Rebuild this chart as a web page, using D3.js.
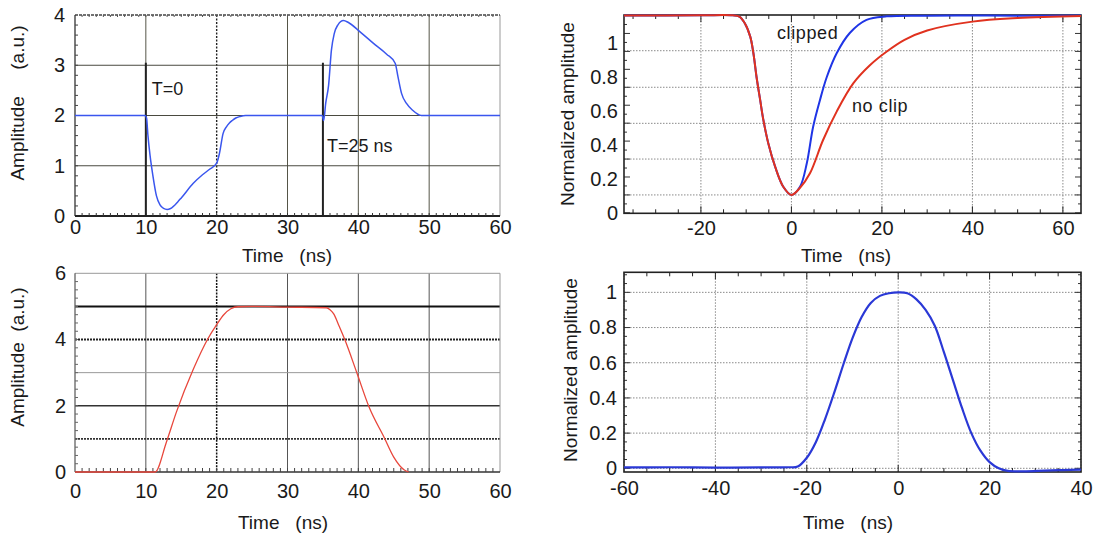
<!DOCTYPE html>
<html><head><meta charset="utf-8">
<script src="https://cdn.jsdelivr.net/npm/d3@7"></script>
<style>
body{margin:0;background:#fff;}
svg text{font-family:"Liberation Sans",Arial,Helvetica,sans-serif;fill:#1a1a1a;}
</style></head><body>
<svg id="c" width="1097" height="537"></svg>
<script>
// ---------- DATA ----------
// Top-left: pulse with T=0 / T=25 ns markers
const tlTime = [0, 9.9, 10.1, 10.3, 10.6, 11.0, 11.5, 12.0, 12.5, 13.0, 13.5, 14.5, 15.0, 16.7, 18.0, 19.0, 20.0, 20.4, 20.9, 21.4, 21.8, 22.2, 22.7, 23.3, 24.1, 30, 34.9, 35.1, 35.4, 35.8, 36.2, 36.6, 37.1, 37.9, 38.6, 40.2, 42.1, 44.0, 45.2, 45.6, 46.1, 46.8, 47.7, 48.9, 50, 60];
const tlAmp  = [2.0, 2.0, 1.95, 1.6, 1.2, 0.8, 0.4, 0.22, 0.15, 0.13, 0.15, 0.28, 0.36, 0.65, 0.82, 0.93, 1.05, 1.25, 1.64, 1.78, 1.85, 1.9, 1.95, 1.98, 2.0, 2.0, 2.0, 1.9, 2.25, 2.6, 3.3, 3.63, 3.8, 3.89, 3.85, 3.67, 3.44, 3.22, 3.04, 2.77, 2.44, 2.24, 2.1, 2.0, 2.0, 2.0];
const tlXTicks = [0, 10, 20, 30, 40, 50, 60];
const tlYTicks = [0, 1, 2, 3, 4];
const tlGridX = [10, 20, 30, 40, 50];
const tlGridY = [1, 2, 3];
const tlMarkers = [10, 35];          // T=0 and T=25 ns lines (time)
const tlMarkerTop = 3.05;
const tlNotes = ["T=0", "T=25 ns"];

// Top-right: normalized pulses, clipped vs no clip
const trTimeDown = [-37, -20, -13, -11.5, -10.3, -9.1, -8.4, -7.7, -6.9, -6.2, -5.1, -3.6, -1.8, 0];
const trAmpDown  = [1.163, 1.164, 1.164, 1.157, 1.118, 1.039, 0.941, 0.80, 0.665, 0.549, 0.41, 0.274, 0.156, 0.108];
const trTimeClip = [0, 1.9, 3.4, 4.8, 6.3, 7.8, 10.0, 12.9, 16.6, 21.1, 30, 40, 50, 64];
const trAmpClip  = [0.108, 0.156, 0.294, 0.509, 0.665, 0.80, 0.941, 1.06, 1.137, 1.158, 1.162, 1.163, 1.162, 1.163];
const trTimeNoClip = [0, 1.9, 4.1, 7.0, 10.0, 13.7, 17.4, 21.0, 25.0, 30.0, 40.0, 50.0, 64];
const trAmpNoClip  = [0.108, 0.15, 0.235, 0.431, 0.598, 0.765, 0.872, 0.95, 1.02, 1.075, 1.127, 1.148, 1.16];
const trXTicks = [-20, 0, 20, 40, 60];
const trYTicks = [0, 0.2, 0.4, 0.6, 0.8, 1];
const trGridY = [0.108, 0.319, 0.529, 0.741, 0.956];
const trNotes = ["clipped", "no clip"];

// Bottom-left: trapezoid
const blTime = [0, 11.3, 12.9, 14.3, 16.7, 18.7, 20.0, 21.0, 22.0, 23.0, 25, 30, 35.5, 36.0, 36.5, 37.3, 38.1, 39.8, 41.5, 43.7, 45.0, 46.5, 47.1];
const blAmp  = [0, 0, 0.9, 1.8, 3.1, 4.0, 4.45, 4.75, 4.93, 4.99, 5.0, 4.98, 4.96, 4.9, 4.78, 4.4, 3.99, 2.99, 1.97, 1.02, 0.45, 0.06, 0];
const blXTicks = [0, 10, 20, 30, 40, 50, 60];
const blYTicks = [0, 2, 4, 6];
const blGridX = [10, 20, 30, 40, 50];
const blGridY = [1, 2, 3, 4, 5];

// Bottom-right: shaped pulse
const brTime = [-60, -50, -40, -30, -24, -22, -20, -18, -16, -14, -12, -10, -8, -6, -4, -2, 0, 2, 4, 6, 8, 10, 12, 14, 16, 18, 20, 22, 24, 28, 32, 36, 40];
const brAmp  = [0.005, 0.006, 0.004, 0.005, 0.006, 0.01, 0.06, 0.15, 0.28, 0.43, 0.59, 0.74, 0.86, 0.94, 0.98, 0.995, 1.0, 0.995, 0.96, 0.9, 0.81, 0.66, 0.5, 0.34, 0.2, 0.1, 0.035, 0.0, -0.015, -0.017, -0.013, -0.01, -0.008];
const brXTicks = [-60, -40, -20, 0, 20, 40];
const brYTicks = [0, 0.2, 0.4, 0.6, 0.8, 1];

const xTitle = "Time   (ns)";
const yTitleTop = "Amplitude     (a.u.)";
const yTitleBot = "Amplitude  (a.u.)";
const yTitleNorm = "Normalized amplitude";

// ---------- HELPERS ----------
const svg = d3.select("#c");
const FS = 19, TFS = 20;
const zip = (a, b) => a.map((v, i) => [v, b[i]]);

function hLine(g, x1, x2, y, color, w, dash) {
  g.append("line").attr("x1", x1).attr("x2", x2).attr("y1", y).attr("y2", y)
    .attr("stroke", color).attr("stroke-width", w).attr("stroke-dasharray", dash || null);
}
function vLine(g, x, y1, y2, color, w, dash) {
  g.append("line").attr("x1", x).attr("x2", x).attr("y1", y1).attr("y2", y2)
    .attr("stroke", color).attr("stroke-width", w).attr("stroke-dasharray", dash || null);
}
function bottomLabels(x, y0, vals, pad) {
  svg.append("g").attr("transform", `translate(0,${y0})`)
    .call(d3.axisBottom(x).tickValues(vals).tickSize(0).tickPadding(pad).tickFormat(d => String(d)))
    .attr("font-size", TFS)
    .call(a => a.select(".domain").remove());
}
function leftLabels(y, x0, vals, pad) {
  svg.append("g").attr("transform", `translate(${x0},0)`)
    .call(d3.axisLeft(y).tickValues(vals).tickSize(0).tickPadding(pad).tickFormat(d => String(d)))
    .attr("font-size", TFS)
    .call(a => a.select(".domain").remove());
}
function titleX(cx, by, t) {
  svg.append("text").attr("x", cx).attr("y", by).attr("text-anchor", "middle")
    .attr("font-size", FS).style("white-space", "pre").text(t);
}
function titleY(cx, cy, t) {
  svg.append("text").attr("transform", `translate(${cx},${cy}) rotate(-90)`)
    .attr("text-anchor", "middle").attr("dominant-baseline", "central")
    .attr("font-size", FS).style("white-space", "pre").text(t);
}
let clipId = 0;
function clip(x, y) {
  const id = "clip" + (clipId++);
  svg.append("clipPath").attr("id", id).append("rect")
    .attr("x", x.range()[0]).attr("y", y.range()[1] - 1)
    .attr("width", x.range()[1] - x.range()[0]).attr("height", y.range()[0] - y.range()[1] + 2);
  return `url(#${id})`;
}

// ---------- TOP-LEFT ----------
{
  const x = d3.scaleLinear([0, 60], [75, 500]);
  const y = d3.scaleLinear([0, 4], [216, 15]);
  const g = svg.append("g");
  tlGridX.forEach(v => {
    if (v === 20) vLine(g, x(v), y(4), y(0), "#222", 1.4, "2,1.5");
    else vLine(g, x(v), y(4), y(0), "#555548", 1);
  });
  tlGridY.forEach(v => hLine(g, x(0), x(60), y(v), "#4a4a40", 1));
  vLine(g, x(60), y(4), y(0), "#999", 1);
  hLine(g, x(0), x(60), y(4), "#444", 1.6, "3,1");
  vLine(g, x(0), y(4), y(0), "#333", 1.3);
  hLine(g, x(0), x(60), y(0), "#222", 2);
  d3.range(1, 60).forEach(t => {
    vLine(g, x(t), y(0), y(0) - 3, "#333", 1);
    vLine(g, x(t), y(4), y(4) + 2, "#555", 1);
  });
  d3.range(0.2, 4, 0.2).forEach(v => hLine(g, x(0), x(0) + 3, y(v), "#444", 1));
  tlMarkers.forEach(t => vLine(g, x(t), y(tlMarkerTop), y(0), "#222", 2));
  svg.append("path").datum(zip(tlTime, tlAmp))
    .attr("clip-path", clip(x, y))
    .attr("fill", "none").attr("stroke", "#3a56ee").attr("stroke-width", 1.5)
    .attr("d", d3.line().x(d => x(d[0])).y(d => y(d[1])).curve(d3.curveMonotoneX));
  svg.append("text").attr("x", x(10) + 6).attr("y", 95).attr("font-size", 18).text(tlNotes[0]);
  svg.append("text").attr("x", x(35) + 4).attr("y", 152).attr("font-size", 18).text(tlNotes[1]);
  bottomLabels(x, 216, tlXTicks, 4);
  leftLabels(y, 75, tlYTicks, 10);
  titleX(287, 262, xTitle);
  titleY(17, 103, yTitleTop);
}

// ---------- TOP-RIGHT ----------
{
  const x = d3.scaleLinear([-37, 64], [624, 1081]);
  const y = d3.scaleLinear([0, 1.166], [213.3, 15]);
  const g = svg.append("g");
  trXTicks.forEach(v => vLine(g, x(v), y(1.166), y(0), "#8a8a8a", 1, "1.5,1.5"));
  trGridY.forEach(v => hLine(g, x(-37), x(64), y(v), "#8a8a8a", 1, "1.5,1.5"));
  d3.range(-35, 64, 5).forEach(t => {
    const major = trXTicks.includes(t);
    const L = major ? 7 : 4;
    vLine(g, x(t), y(0), y(0) - L, "#222", 1);
    vLine(g, x(t), y(1.166), y(1.166) + L, "#222", 1);
  });
  const step = (trGridY[1] - trGridY[0]) / 4;
  d3.range(0, 22).forEach(k => {
    const v = trGridY[0] - 2 * step + k * step;
    if (v <= 0 || v >= 1.166) return;
    const L = (k % 2 === 0) ? 6 : 3;
    hLine(g, x(-37), x(-37) + L, y(v), "#333", 1);
    hLine(g, x(64), x(64) - L, y(v), "#333", 1);
  });
  const line = d3.line().x(d => x(d[0])).y(d => y(d[1])).curve(d3.curveCatmullRom.alpha(0.5));
  const cp = clip(x, y);
  svg.append("path").datum(zip(trTimeDown, trAmpDown).concat(zip(trTimeClip, trAmpClip).slice(1)))
    .attr("clip-path", cp).attr("fill", "none").attr("stroke", "#1f35e6").attr("stroke-width", 2)
    .attr("d", line);
  svg.append("path").datum(zip(trTimeDown, trAmpDown).concat(zip(trTimeNoClip, trAmpNoClip).slice(1)))
    .attr("clip-path", cp).attr("fill", "none").attr("stroke", "#e0321f").attr("stroke-width", 2)
    .attr("d", line);
  g.append("rect").attr("x", x(-37)).attr("y", y(1.166)).attr("width", x(64) - x(-37))
    .attr("height", y(0) - y(1.166)).attr("fill", "none").attr("stroke", "#222").attr("stroke-width", 1.6);
  svg.append("text").attr("x", 777).attr("y", 39).attr("font-size", 18).attr("letter-spacing", 0.6).text(trNotes[0]);
  svg.append("text").attr("x", 852).attr("y", 112).attr("font-size", 18).attr("letter-spacing", 0.6).text(trNotes[1]);
  bottomLabels(x, 213.3, trXTicks, 8);
  leftLabels(y, 624, trYTicks, 6);
  titleX(846, 262, xTitle);
  titleY(567, 114, yTitleNorm);
}

// ---------- BOTTOM-LEFT ----------
{
  const x = d3.scaleLinear([0, 60], [75, 500]);
  const y = d3.scaleLinear([0, 6], [472, 273.3]);
  const g = svg.append("g");
  blGridX.forEach(v => {
    if (v === 20) vLine(g, x(v), y(6), y(0), "#111", 1.5, "2,1.2");
    else vLine(g, x(v), y(6), y(0), "#555", 1);
  });
  const styles = {1: ["#333", 1.6, "2,1"], 2: ["#333", 1.4, null], 3: ["#999", 1, null], 4: ["#222", 2, "2,1"], 5: ["#111", 2, null]};
  blGridY.forEach(v => hLine(g, x(0), x(60), y(v), styles[v][0], styles[v][1], styles[v][2]));
  vLine(g, x(60), y(6), y(0), "#999", 1);
  hLine(g, x(0), x(60), y(6), "#999", 1);
  vLine(g, x(0), y(6), y(0), "#555", 1.2);
  hLine(g, x(0), x(60), y(0), "#333", 1.6);
  d3.range(1, 60).forEach(t => vLine(g, x(t), y(0), y(0) - 4, "#444", 1));
  d3.range(0.25, 6, 0.25).forEach(v => hLine(g, x(0), x(0) + 3, y(v), "#666", 1));
  svg.append("path").datum(zip(blTime, blAmp))
    .attr("clip-path", clip(x, y))
    .attr("fill", "none").attr("stroke", "#e8473c").attr("stroke-width", 1.3)
    .attr("d", d3.line().x(d => x(d[0])).y(d => y(d[1])).curve(d3.curveMonotoneX));
  bottomLabels(x, 472, blXTicks, 12);
  leftLabels(y, 75, blYTicks, 9);
  titleX(283, 529, xTitle);
  titleY(17, 357, yTitleBot);
}

// ---------- BOTTOM-RIGHT ----------
{
  const x = d3.scaleLinear([-60, 40], [624, 1081]);
  const y = d3.scaleLinear([-0.021, 1.114], [472, 272.3]);
  const g = svg.append("g");
  brXTicks.forEach(v => vLine(g, x(v), y(1.114), y(-0.021), "#8a8a8a", 1, "1.5,1.5"));
  brYTicks.forEach(v => hLine(g, x(-60), x(40), y(v), "#8a8a8a", 1, "1.5,1.5"));
  d3.range(-55, 40, 5).forEach(t => {
    const major = brXTicks.includes(t);
    const L = major ? 7 : 4;
    vLine(g, x(t), y(-0.021), y(-0.021) - L, "#222", 1);
    vLine(g, x(t), y(1.114), y(1.114) + L, "#222", 1);
  });
  d3.range(0, 1.11, 0.05).forEach(v => {
    const L = (Math.round(v * 100) % 20 === 0) ? 6 : 3;
    hLine(g, x(-60), x(-60) + L, y(v), "#333", 1);
    hLine(g, x(40), x(40) - L, y(v), "#333", 1);
  });
  svg.append("path").datum(zip(brTime, brAmp))
    .attr("clip-path", clip(x, y))
    .attr("fill", "none").attr("stroke", "#2a38d6").attr("stroke-width", 2.2)
    .attr("d", d3.line().x(d => x(d[0])).y(d => y(d[1])).curve(d3.curveCatmullRom.alpha(0.5)));
  g.append("rect").attr("x", x(-60)).attr("y", y(1.114)).attr("width", x(40) - x(-60))
    .attr("height", y(-0.021) - y(1.114)).attr("fill", "none").attr("stroke", "#222").attr("stroke-width", 1.6);
  bottomLabels(x, 472, brXTicks, 9);
  leftLabels(y, 624, brYTicks, 7);
  titleX(848, 529, xTitle);
  titleY(570, 370, yTitleNorm);
}
</script></body></html>
